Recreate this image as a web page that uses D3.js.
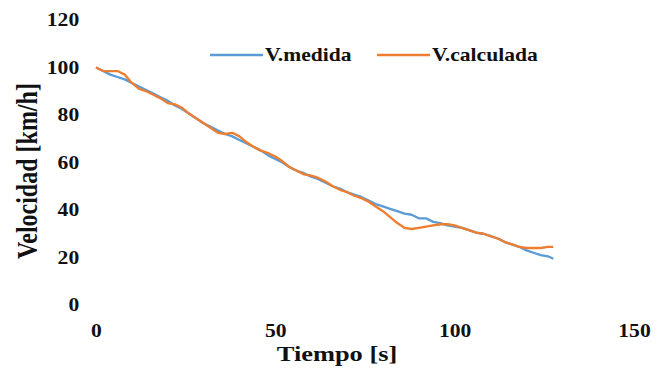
<!DOCTYPE html>
<html>
<head>
<meta charset="utf-8">
<script src="https://cdn.jsdelivr.net/npm/d3@7"></script>
<style>
  body { margin: 0; background: #fff; }
  svg text { font-family: "Liberation Serif", "Times New Roman", serif; font-weight: bold; fill: #111; }
</style>
</head>
<body>
<svg id="chart"></svg>
<script>
// tiempo [s]
const tiempo = [0,2,4,6,8,10,12,14,16,18,20,22,24,26,28,30,32,34,36,38,40,42,44,46,48,50,
  52,54,56,58,60,62,64,66,68,70,72,74,76,78,80,82,84,86,88,90,92,94,96,98,100,
  102,104,106,108,110,112,114,116,118,120,122,124,126,127.5];
// V.medida
const vMedida = [100,98.5,97,96,95,93.5,92,90.5,89,87.5,86,84,82.5,80.5,78.5,76.5,75,73.5,72,71,69.5,68,66.5,65,63,61.5,
  60,58,56.5,55.5,54,53,51.5,50,49,47.5,46.5,45.5,44,42.5,41.5,40.5,39.5,38.5,38,36.5,36.5,35,34.5,33.5,33,
  32.5,31.5,30.5,30,29,28,26.5,25.5,24.5,23,22,21,20.5,19.5];
// V.calculada
const vCalculada = [100,98.5,98.5,98.5,97,93.5,91,90,88.5,87,85,84.5,83,80.5,78.5,76.5,74.5,72.5,72,72.5,71,68.5,66.5,65,64,62.5,
  60.5,58,56.5,55,54.5,53.5,52,50,48.5,47.5,46,45,43.5,41.5,39.5,37,34.5,32.5,32,32.5,33,33.5,34,34,33.5,
  32.5,31.5,30.5,30,29,28,26.5,25.5,24.5,24,24,24,24.5,24.5];

const xTicks = [0,50,100,150];
const yTicks = [0,20,40,60,80,100,120];
const seriesNames = ["V.medida","V.calculada"];
const colors = ["#5B9BD5","#ED7D31"];

const width = 670, height = 369;
const svg = d3.select("#chart").attr("width", width).attr("height", height);

const x = d3.scaleLinear().domain([0,150]).range([96,634]);
const y = d3.scaleLinear().domain([0,120]).range([305,20]);

// axes (no lines, just labels)
const gx = svg.append("g").attr("transform","translate(0,305)")
  .call(d3.axisBottom(x).tickValues(xTicks).tickSize(0).tickPadding(19));
const gy = svg.append("g").attr("transform","translate(96,0)")
  .call(d3.axisLeft(y).tickValues(yTicks).tickSize(0).tickPadding(14));
[gx, gy].forEach(g => {
  g.select(".domain").remove();
  g.selectAll("text")
    .style("font-family", '"Liberation Serif", "Times New Roman", serif')
    .style("font-weight", "bold")
    .style("font-size", "18px")
    .attr("fill", "#111")
    .attr("transform", "scale(1.2,1)");
});

// lines
const series = [vMedida, vCalculada];
const line = d3.line().x((d,i) => x(tiempo[i])).y(d => y(d));
series.forEach((s,k) => {
  svg.append("path")
    .datum(s)
    .attr("fill","none")
    .attr("stroke", colors[k])
    .attr("stroke-width", 2.3)
    .attr("stroke-linejoin","round")
    .attr("d", line);
});

// legend
const legX = [210, 377];
seriesNames.forEach((n,k) => {
  svg.append("line")
    .attr("x1", legX[k]).attr("x2", legX[k] + 53)
    .attr("y1", 55).attr("y2", 55)
    .attr("stroke", colors[k]).attr("stroke-width", 2.3);
  svg.append("text")
    .attr("transform", `translate(${legX[k] + 55},61) scale(1.2,1)`)
    .style("font-size","18px")
    .text(n);
});

// axis titles
svg.append("text")
  .attr("transform","translate(337,361) scale(1.2,1)")
  .attr("text-anchor","middle")
  .style("font-size","22px")
  .text("Tiempo [s]");
svg.append("text")
  .attr("transform","translate(37,171) rotate(-90) scale(1,1.2)")
  .attr("text-anchor","middle")
  .style("font-size","24px")
  .text("Velocidad [km/h]");
</script>
</body>
</html>
